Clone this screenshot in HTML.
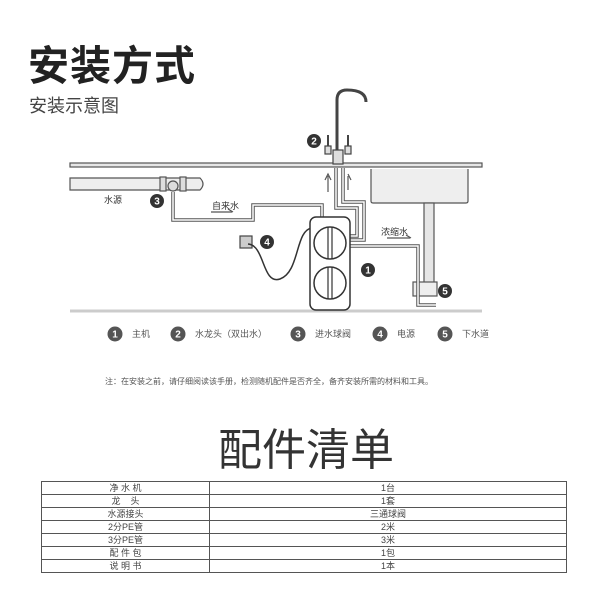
<!DOCTYPE html>
<html><head><meta charset="utf-8"><style>
html,body{margin:0;padding:0;background:#fff;}
body{width:600px;height:600px;position:relative;overflow:hidden;font-family:"Liberation Sans","Noto Sans CJK SC",sans-serif;}
.t{position:absolute;white-space:nowrap;}
table{position:absolute;left:41px;top:481px;width:526px;border-collapse:collapse;font-size:9px;color:#444;}
td{border:1.5px solid #555;height:12px;padding:0;text-align:center;line-height:12px;}
</style></head><body>
<div class="t" style="left:28px;top:32px;font-size:41px;font-weight:bold;color:#222;letter-spacing:1px;">安装方式</div>
<div class="t" style="left:29px;top:92px;font-size:18px;color:#444;">安装示意图</div>
<svg width="600" height="600" style="position:absolute;left:0;top:0" font-family="Liberation Sans,Noto Sans CJK SC,sans-serif">
<g fill="none" stroke="#555" stroke-width="1.2">
<rect x="70" y="163" width="412" height="4" fill="#e6e6e6"/>
<path d="M371 169 V201 Q371 203 373 203 H466 Q468 203 468 201 V169" fill="#eee"/>
<rect x="424" y="203" width="10" height="80" fill="#e6e6e6"/>
<rect x="413" y="282" width="24" height="14" fill="#eee"/>
<line x1="70" y1="311" x2="482" y2="311" stroke="#ccc" stroke-width="3"/>
<path d="M70 178 H200 Q206 184 200 190 H70 Z" fill="#eee"/>
<rect x="160" y="177" width="6" height="14" fill="#ddd"/>
<rect x="180" y="177" width="6" height="14" fill="#ddd"/>
<circle cx="173" cy="186" r="5" fill="#ddd"/>
<path d="M173 192 V220 H253 V205 H322 V217" stroke-width="3.5"/>
<path d="M173 192 V220 H253 V205 H322 V217" stroke="#fff" stroke-width="1.5"/>
<path d="M336 168 V208 H357 V236 H350" stroke-width="3.5"/>
<path d="M336 168 V208 H357 V236 H350" stroke="#fff" stroke-width="1.5"/>
<path d="M343 168 V202 H364 V240 H350" stroke-width="3.5"/>
<path d="M343 168 V202 H364 V240 H350" stroke="#fff" stroke-width="1.5"/>
<path d="M350 246 H418 V305 H436" stroke-width="3.5"/>
<path d="M350 246 H418 V305 H436" stroke="#fff" stroke-width="1.5"/>
<line x1="328" y1="192" x2="328" y2="176"/><path d="M325 180 L328 174 L331 180" />
<line x1="348" y1="190" x2="348" y2="176"/><path d="M348 174 L351 180"/>
<line x1="211" y1="212" x2="232" y2="212"/><path d="M228 209 L233 212"/>
<line x1="387" y1="238" x2="410" y2="238"/><path d="M406 235 L411 238"/>
<rect x="240" y="236" width="12" height="12" fill="#ccc" stroke="#444"/>
<path d="M248 244 C265 245 262 285 280 279 C300 272 295 230 312 228" stroke="#333" stroke-width="1.5"/>
<rect x="310" y="217" width="40" height="93" rx="6" fill="#fff" stroke="#333" stroke-width="1.5"/>
<circle cx="330" cy="243" r="16" stroke="#333" stroke-width="1.5"/>
<circle cx="330" cy="283" r="16" stroke="#333" stroke-width="1.5"/>
<path d="M328 227 V259 M332 227 V259 M328 267 V299 M332 267 V299" stroke="#333"/>
<path d="M337 155 V100 Q337 90 347 90 Q366 90 366 102" stroke="#444" stroke-width="3"/>
<rect x="333" y="150" width="10" height="14" fill="#ddd" stroke="#444"/>
<rect x="325" y="146" width="6" height="8" fill="#ddd" stroke="#444"/>
<rect x="345" y="146" width="6" height="8" fill="#ddd" stroke="#444"/>
<line x1="328" y1="135" x2="328" y2="146" stroke="#444" stroke-width="2"/>
<line x1="348" y1="135" x2="348" y2="146" stroke="#444" stroke-width="2"/>
</g>
<g font-size="9" fill="#333">
<text x="104" y="203">水源</text>
<text x="212" y="209">自来水</text>
<text x="381" y="235">浓缩水</text>
</g>
<g font-size="10" font-weight="bold" fill="#fff" text-anchor="middle">
<circle cx="314" cy="141" r="7" fill="#333"/><text x="314" y="144.5">2</text>
<circle cx="157" cy="201" r="7" fill="#333"/><text x="157" y="204.5">3</text>
<circle cx="267" cy="242" r="7" fill="#333"/><text x="267" y="245.5">4</text>
<circle cx="368" cy="270" r="7" fill="#333"/><text x="368" y="273.5">1</text>
<circle cx="445" cy="291" r="7" fill="#333"/><text x="445" y="294.5">5</text>
<circle cx="115" cy="334" r="7.5" fill="#555"/><text x="115" y="337.5">1</text>
<circle cx="178" cy="334" r="7.5" fill="#555"/><text x="178" y="337.5">2</text>
<circle cx="298" cy="334" r="7.5" fill="#555"/><text x="298" y="337.5">3</text>
<circle cx="380" cy="334" r="7.5" fill="#555"/><text x="380" y="337.5">4</text>
<circle cx="445" cy="334" r="7.5" fill="#555"/><text x="445" y="337.5">5</text>
</g>
<g font-size="9" fill="#555">
<text x="132" y="337">主机</text>
<text x="195" y="337">水龙头（双出水）</text>
<text x="315" y="337">进水球阀</text>
<text x="397" y="337">电源</text>
<text x="462" y="337">下水道</text>
<text x="105" y="384" font-size="8">注：在安装之前，请仔细阅读该手册，检测随机配件是否齐全，备齐安装所需的材料和工具。</text>
</g>
</svg>
<div class="t" style="left:218px;top:414px;font-size:44px;color:#333;">配件清单</div>
<table>
<tr><td style="width:167px">净 水 机</td><td>1台</td></tr>
<tr><td>龙 &nbsp;&nbsp;&nbsp;头</td><td>1套</td></tr>
<tr><td>水源接头</td><td>三通球阀</td></tr>
<tr><td>2分PE管</td><td>2米</td></tr>
<tr><td>3分PE管</td><td>3米</td></tr>
<tr><td>配 件 包</td><td>1包</td></tr>
<tr><td>说 明 书</td><td>1本</td></tr>
</table>
</body></html>
